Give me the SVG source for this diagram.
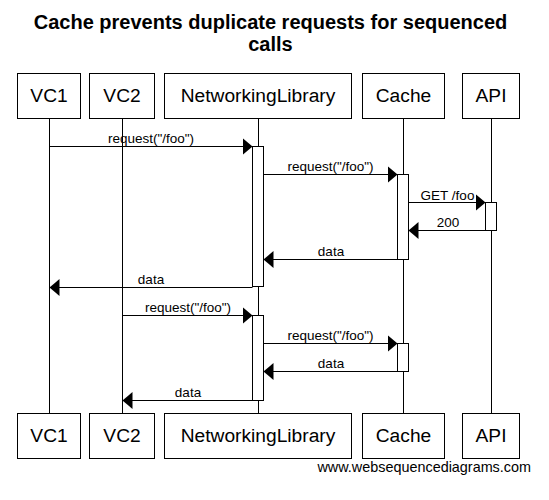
<svg xmlns="http://www.w3.org/2000/svg" width="549" height="500" viewBox="0 0 549 500">
<style>
.bg{fill:#fff}
.box{fill:#fff;stroke:#000;stroke-width:1}
.life{stroke:#000;stroke-width:1;fill:none}
.act{fill:#fff;stroke:#000;stroke-width:1}
.msg{stroke:#000;stroke-width:1;fill:none;marker-end:url(#head)}
.pt{font-family:"Liberation Sans",Arial,sans-serif;font-size:19.2px;fill:#000;text-anchor:middle}
.ml{font-family:"Liberation Sans",Arial,sans-serif;font-size:13.5px;fill:#000;text-anchor:middle}
.title{font-family:"Liberation Sans",Arial,sans-serif;font-size:20px;font-weight:bold;fill:#000;text-anchor:middle}
.wm{font-family:"Liberation Sans",Arial,sans-serif;font-size:14.4px;fill:#000;text-anchor:end}
</style>
<defs>
<marker id="head" markerUnits="userSpaceOnUse" markerWidth="11" markerHeight="18" refX="10" refY="8.5" orient="auto">
<path d="M0,0 L10,8.5 L0,17 Z" fill="#000"/>
</marker>
</defs>
<rect class="bg" x="0" y="0" width="549" height="500"/>
<g id="title">
<text class="title" x="270.5" y="29">Cache prevents duplicate requests for sequenced</text>
<text class="title" x="270.5" y="51">calls</text>
</g>
<g id="lifelines">
<line class="life" x1="49.5" y1="118" x2="49.5" y2="413"/>
<line class="life" x1="122.5" y1="118" x2="122.5" y2="413"/>
<line class="life" x1="258.5" y1="118" x2="258.5" y2="413"/>
<line class="life" x1="403.5" y1="118" x2="403.5" y2="413"/>
<line class="life" x1="491.5" y1="118" x2="491.5" y2="413"/>
</g>
<g id="VC1">
<rect class="box" x="17.5" y="73.5" width="63" height="45"/>
<text class="pt" x="49" y="102">VC1</text>
<rect class="box" x="17.5" y="413.5" width="63" height="45"/>
<text class="pt" x="49" y="442">VC1</text>
</g>
<g id="VC2">
<rect class="box" x="89.5" y="73.5" width="65" height="45"/>
<text class="pt" x="122" y="102">VC2</text>
<rect class="box" x="89.5" y="413.5" width="65" height="45"/>
<text class="pt" x="122" y="442">VC2</text>
</g>
<g id="NetworkingLibrary">
<rect class="box" x="164.5" y="73.5" width="187" height="45"/>
<text class="pt" x="258" y="102">NetworkingLibrary</text>
<rect class="box" x="164.5" y="413.5" width="187" height="45"/>
<text class="pt" x="258" y="442">NetworkingLibrary</text>
<rect class="act" x="252.5" y="146.5" width="11" height="140"/>
<rect class="act" x="252.5" y="315.5" width="11" height="85"/>
</g>
<g id="Cache">
<rect class="box" x="362.5" y="73.5" width="82" height="45"/>
<text class="pt" x="403.5" y="102">Cache</text>
<rect class="box" x="362.5" y="413.5" width="82" height="45"/>
<text class="pt" x="403.5" y="442">Cache</text>
<rect class="act" x="397.5" y="174.5" width="11" height="85"/>
<rect class="act" x="397.5" y="343.5" width="11" height="28"/>
</g>
<g id="API">
<rect class="box" x="462.5" y="73.5" width="57" height="45"/>
<text class="pt" x="491" y="102">API</text>
<rect class="box" x="462.5" y="413.5" width="57" height="45"/>
<text class="pt" x="491" y="442">API</text>
<rect class="act" x="485.5" y="202.5" width="11" height="28"/>
</g>
<g id="connectors">
<line class="msg" x1="49.5" y1="146.5" x2="252.5" y2="146.5"/>
<text class="ml" x="151" y="143">request("/foo")</text>
<line class="msg" x1="263.5" y1="174.5" x2="397.5" y2="174.5"/>
<text class="ml" x="330.5" y="171">request("/foo")</text>
<line class="msg" x1="408.5" y1="202.5" x2="485.5" y2="202.5"/>
<text class="ml" x="447.5" y="200">GET /foo</text>
<line class="msg" x1="485.5" y1="230.5" x2="408.5" y2="230.5"/>
<text class="ml" x="448" y="227">200</text>
<line class="msg" x1="397.5" y1="259.5" x2="263.5" y2="259.5"/>
<text class="ml" x="331" y="255.5">data</text>
<line class="msg" x1="252.5" y1="287.5" x2="49.5" y2="287.5"/>
<text class="ml" x="151" y="284">data</text>
<line class="msg" x1="122.5" y1="315.5" x2="252.5" y2="315.5"/>
<text class="ml" x="188" y="312">request("/foo")</text>
<line class="msg" x1="263.5" y1="343.5" x2="397.5" y2="343.5"/>
<text class="ml" x="330.5" y="340">request("/foo")</text>
<line class="msg" x1="397.5" y1="371.5" x2="263.5" y2="371.5"/>
<text class="ml" x="331" y="368">data</text>
<line class="msg" x1="252.5" y1="400.5" x2="122.5" y2="400.5"/>
<text class="ml" x="188" y="396.5">data</text>
</g>
<g id="watermark">
<text class="wm" x="531" y="472">www.websequencediagrams.com</text>
</g>
</svg>
